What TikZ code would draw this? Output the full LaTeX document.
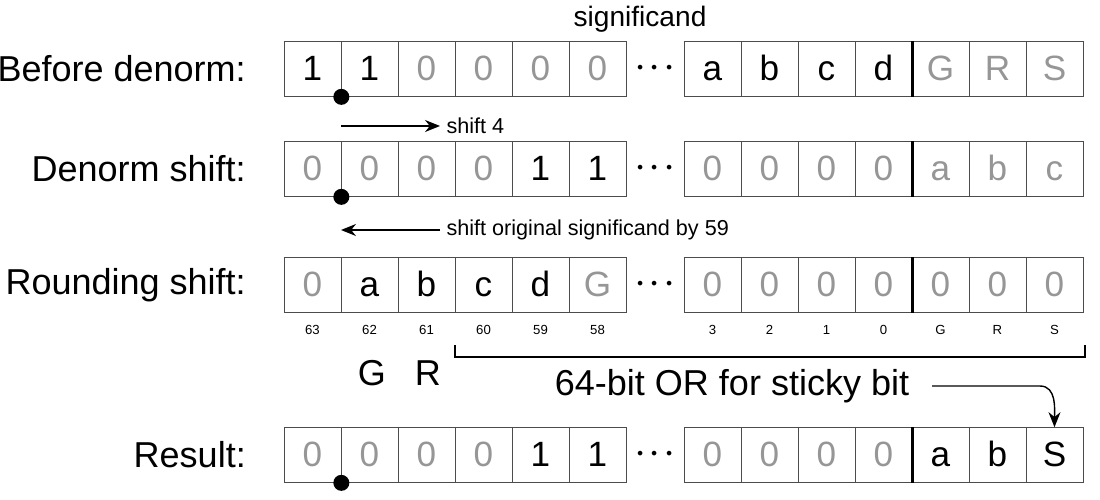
\documentclass[tikz,border=0pt]{standalone}
\usepackage{fontspec}
\setmainfont{Liberation Sans}
\usetikzlibrary{positioning,arrows.meta,calc}
\definecolor{bitgray}{RGB}{150,150,150}
\tikzset{
  cell/.style = {rectangle, draw=black!70, minimum width=1.14cm,
                 minimum height=1.1cm, inner sep=0pt, text height=0.5cm, text depth=0.05cm,
                 font=\fontsize{20}{20}\selectfont},
  k/.style    = {text=black},
  g/.style    = {text=bitgray},
  rowlab/.style = {anchor=east, font=\fontsize{20.5}{20}\selectfont},
  idx/.style  = {font=\fontsize{7.5}{8}\selectfont},
  note/.style = {font=\fontsize{12.3}{14}\selectfont},
  pin/.style  = {circle, fill=black, minimum size=3.2mm, inner sep=0pt},
  arr/.style  = {-{Stealth[length=3mm,width=2.4mm]}, thick}
}
\begin{document}
\begin{tikzpicture}[x=0.02cm,y=-0.02cm]
\useasboundingbox (0,0) rectangle (1100,500);

% --- Zeilen ------------------------------------------------------
\foreach \r/\y/\lab/\bits in {
  1/69/{Before denorm:}/{1/k,1/k,0/g,0/g,0/g,0/g,a/k,b/k,c/k,d/k,G/g,R/g,S/g},
  2/169/{Denorm shift:}/{0/g,0/g,0/g,0/g,1/k,1/k,0/g,0/g,0/g,0/g,a/g,b/g,c/g},
  3/285/{Rounding shift:}/{0/g,a/k,b/k,c/k,d/k,G/g,0/g,0/g,0/g,0/g,0/g,0/g,0/g},
  4/455/{Result:}/{0/g,0/g,0/g,0/g,1/k,1/k,0/g,0/g,0/g,0/g,a/k,b/k,S/k}}{
  \node[rowlab] (lab\r) at (252,\y) {\lab};
  \foreach \v/\c [count=\i] in \bits {
    \pgfmathsetmacro\cx{\i<7 ? 312.5+57*(\i-1) : 712.5+57*(\i-7)}
    \node[cell,\c] (r\r c\i) at (\cx,\y) {\v};
  }
  \node (dots\r) at (655,\y) {\fontsize{30}{30}\selectfont$\cdot\!\cdot\!\cdot$};
  \draw[line width=1.6pt] (r\r c10.north east) -- (r\r c10.south east);
}

% --- Markierungen ------------------------------------------------
\node[pin] (p1) at (r1c1.south east) {};
\node[pin] (p2) at (r2c1.south east) {};
\node[pin] (p4) at (r4c1.south east) {};
\node[font=\fontsize{16}{18}\selectfont] (sig) at (640,19) {significand};

% --- Verschiebungen ----------------------------------------------
\coordinate (s1a) at (341,126); \coordinate (s1b) at (440,126);
\draw[arr] (s1a) -- (s1b) node[note, anchor=west] {shift 4};
\coordinate (s2a) at (440,230); \coordinate (s2b) at (341,230);
\draw[arr] (s2a) node[note, anchor=west] {shift original significand by 59} -- (s2b);

% --- Bitindizes --------------------------------------------------
\foreach \t [count=\i] in {63,62,61,60,59,58,3,2,1,0,G,R,S}
  \node[idx] (ix\i) at ($(r3c\i)+(0,45)$) {\t};

% --- Sticky-Bit --------------------------------------------------
\draw[thick] (455,345) -- (455,357) -- (1085,357) -- (1085,345);
\node[rowlab, anchor=center] (gg) at (372,373) {G};
\node[rowlab, anchor=center] (rr) at (428,373) {R};
\node[font=\fontsize{20.5}{22}\selectfont] (orl) at (732,386) {64-bit OR for sticky bit};
\coordinate (c1) at (932,386);
\draw[arr] (c1) -- (1040,386) to[out=0,in=90] (r4c13.north);
\end{tikzpicture}
\end{document}
